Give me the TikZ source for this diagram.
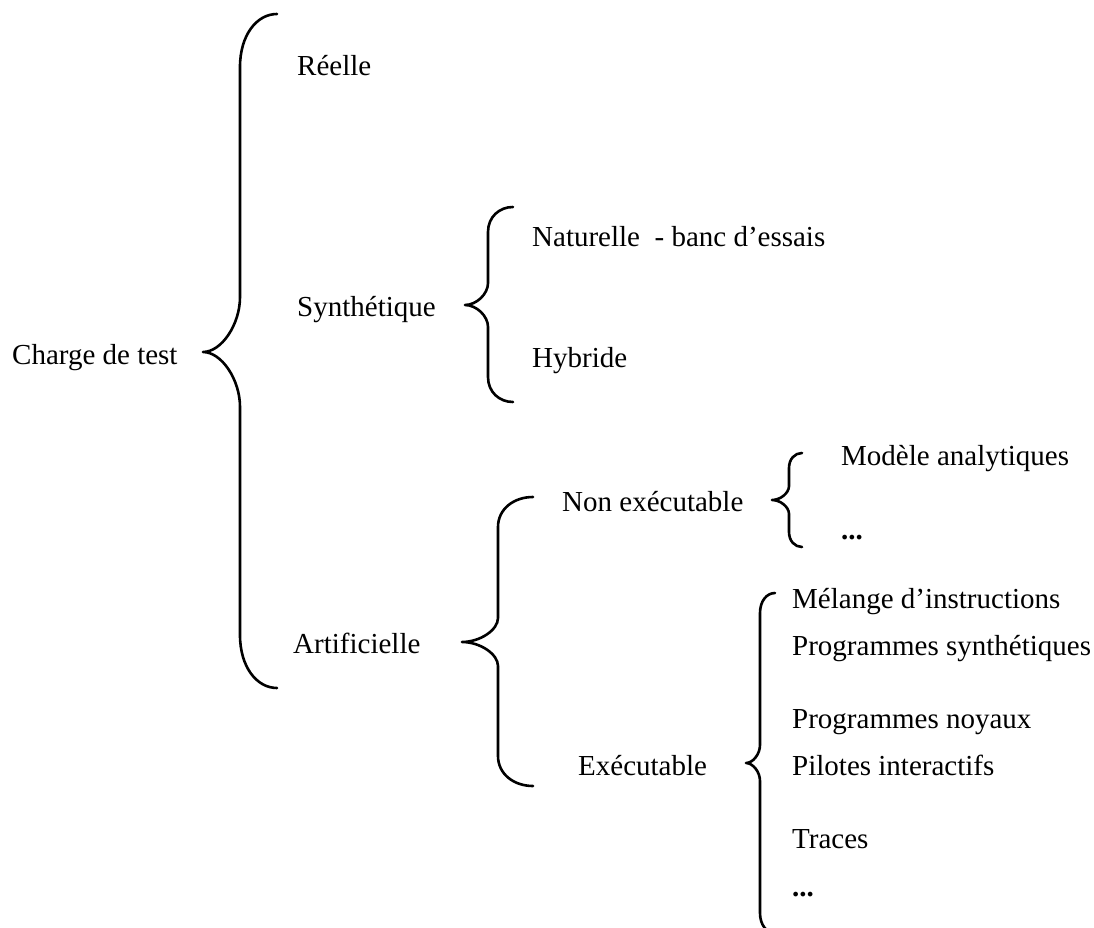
\documentclass[tikz,border=0pt]{standalone}
\usepackage{fontspec}
\setmainfont{Liberation Serif}
\begin{document}
\begin{tikzpicture}[x=1pt,y=-1pt,
  brace/.style={line width=2.6pt,line cap=round,line join=round},
  lbl/.style={anchor=base west,inner sep=0pt,font=\fontsize{29}{33}\selectfont}]
\useasboundingbox (0,0) rectangle (1094,928);
% curly brace: #1 end x, #2 spine x, #3 tip x, #4 top y, #5 tip y, #6 bottom y,
% #7 bend length at the ends, #8 bend length at the tip
\newcommand\curlybrace[8]{%
  \draw[brace] (#1,#4) .. controls ({#2+0.45*(#1-#2)},#4) and (#2,{#4+0.4*#7}) .. (#2,{#4+#7})
    -- (#2,{#5-#8}) .. controls (#2,{#5-0.5*#8}) and ({#2-0.5*(#2-#3)},#5) .. (#3,#5)
    .. controls ({#2-0.5*(#2-#3)},#5) and (#2,{#5+0.5*#8}) .. (#2,{#5+#8})
    -- (#2,{#6-#7}) .. controls (#2,{#6-0.4*#7}) and ({#2+0.45*(#1-#2)},#6) .. (#1,#6);}

% labels (positions are baselines)
\node[lbl] (root) at (12,364) {Charge de test};
\node[lbl] (reel) at (297,76) {Réelle};
\node[lbl] (synth) at (297,316) {Synthétique};
\node[lbl] (artif) at (293,653) {Artificielle};
\node[lbl] (nat) at (532,246) {Naturelle \ - banc d’essais};
\node[lbl] (hyb) at (532,367) {Hybride};
\node[lbl] (nonex) at (562,511) {Non exécutable};
\node[lbl] (exec) at (578,775) {Exécutable};
\node[lbl] (mod) at (841,465) {Modèle analytiques};
\node[lbl] (dots1) at (841,539) {\textbf{...}};
\node[lbl] (mel) at (792,608) {Mélange d’instructions};
\node[lbl] (psyn) at (792,655) {Programmes synthétiques};
\node[lbl] (pnoy) at (792,728) {Programmes noyaux};
\node[lbl] (pil) at (792,775) {Pilotes interactifs};
\node[lbl] (trac) at (792,848) {Traces};
\node[lbl] (dots2) at (792,896) {\textbf{...}};

% braces
\curlybrace{277}{240}{203}{14}{352}{688}{53}{55}
\curlybrace{513}{488}{465}{207}{305}{402}{25}{22}
\curlybrace{533}{498}{462}{497}{642}{786}{30}{24}
\curlybrace{802}{789}{772}{453}{500}{547}{15}{14}
\curlybrace{775}{760}{746}{593}{763}{933}{20}{18}
\end{tikzpicture}
\end{document}
